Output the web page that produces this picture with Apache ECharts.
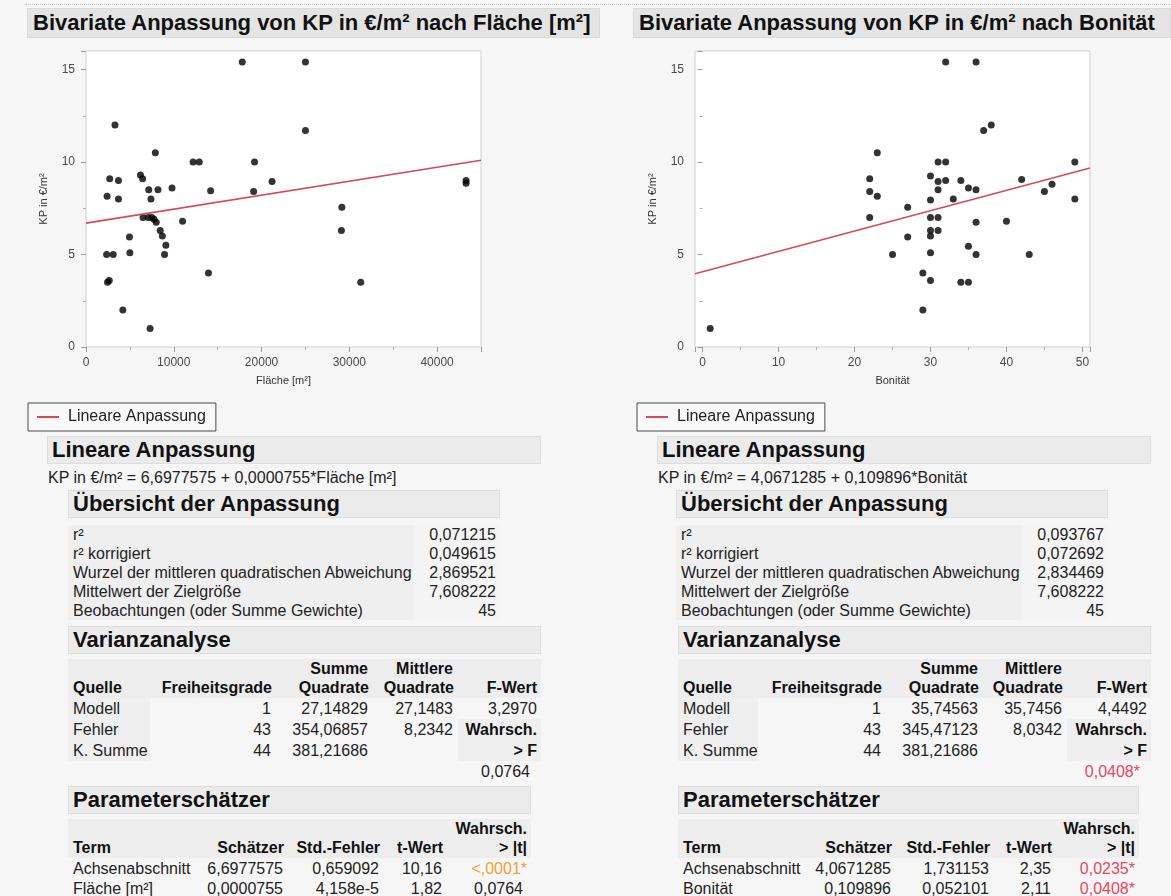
<!DOCTYPE html>
<html>
<head>
<meta charset="utf-8">
<title>Bivariate Anpassung von KP in €/m²</title>
<script src="https://cdn.jsdelivr.net/npm/echarts@6/dist/echarts.min.js"></script>
<style>
  html, body { margin: 0; padding: 0; background: #f6f6f6; }
  body { width: 1171px; height: 896px; position: relative; overflow: hidden;
         font-family: "Liberation Sans", Arial, Helvetica, sans-serif; color: #222; }
  #chart { position: absolute; left: 0; top: 0; width: 1171px; height: 896px; z-index: 2; }
  .layer { position: absolute; left: 0; top: 0; width: 1171px; height: 896px; z-index: 1; }
  .rule { position: absolute; left: 25px; top: 4px; width: 1146px; border-top: 1px dotted #c4c4c4; }
  .title { position: absolute; top: 8px; height: 30px; background: #e4e4e4; box-sizing: border-box;
           font-weight: bold; font-size: 22px; line-height: 28px; padding-left: 5px; color: #111;
           border: 1px solid #dadada; white-space: nowrap; overflow: hidden; }
  .bar { position: absolute; height: 28px; background: #ebebeb; border: 1px solid #dddddd;
         box-sizing: border-box; font-weight: bold; font-size: 22px; line-height: 26px;
         padding-left: 4px; color: #111; white-space: nowrap; }
  .eq { position: absolute; font-size: 16px; line-height: 18px; color: #222; white-space: nowrap; }
  table.rep { position: absolute; border-collapse: collapse; table-layout: fixed; font-size: 16px; }
  table.rep td { padding: 0 5px; white-space: nowrap; line-height: 18px; color: #222; box-sizing: border-box; }
  table.rep td.b { font-weight: bold; color: #111; }
  table.rep td.r { text-align: right; }
  table.rep td.l { text-align: left; }
</style>
</head>
<body>
<div class="layer" id="report"><div class="rule"></div></div>
<div id="chart"></div>
<script>
// ---------- data: KP in €/m² against Fläche [m²] ----------
const flaeche = [17800, 25000, 3300, 25000, 7900, 12200, 12900, 19200, 2700, 3700,
                 6200, 6450, 21200, 43300, 43300, 2400, 3700, 7150, 8200, 9800,
                 7400, 14200, 19100, 6500, 7100, 7500, 7750, 8000, 8450, 8700,
                 9100, 8950, 4950, 5000, 2350, 3100, 2650, 2450, 4200, 7300,
                 11000, 13950, 29150, 29100, 31300];
const kpFlaeche = [15.4, 15.4, 12.0, 11.7, 10.5, 10.0, 10.0, 10.0, 9.1, 9.0,
                   9.3, 9.1, 8.95, 9.0, 8.85, 8.15, 8.0, 8.5, 8.5, 8.6,
                   8.0, 8.45, 8.4, 7.0, 7.0, 7.0, 6.9, 6.75, 6.3, 6.0,
                   5.5, 5.0, 5.95, 5.1, 5.0, 5.0, 3.6, 3.5, 2.0, 1.0,
                   6.8, 4.0, 7.55, 6.3, 3.5];

// ---------- data: KP in €/m² against Bonität ----------
const bonitaet = [1, 32, 36, 38, 37, 23, 31, 32, 49, 22,
                  30, 31, 32, 34, 42, 22, 23, 31, 35, 36,
                  46, 45, 30, 33, 49, 27, 22, 30, 31, 36,
                  40, 30, 31, 30, 27, 35, 25, 30, 36, 43,
                  29, 30, 34, 35, 29];
const kpBonitaet = [1.0, 15.4, 15.4, 12.0, 11.7, 10.5, 10.0, 10.0, 10.0, 9.1,
                    9.25, 8.95, 9.0, 9.0, 9.05, 8.4, 8.15, 8.5, 8.6, 8.5,
                    8.8, 8.4, 7.95, 8.0, 8.0, 7.55, 7.0, 7.0, 7.0, 6.75,
                    6.8, 6.3, 6.3, 6.0, 5.95, 5.45, 5.0, 5.1, 5.0, 5.0,
                    4.0, 3.6, 3.5, 3.5, 2.0];

// ---------- report texts ----------
const titles = ['Bivariate Anpassung von KP in €/m² nach Fläche [m²]',
                'Bivariate Anpassung von KP in €/m² nach Bonität'];
const xNames = ['Fläche [m²]', 'Bonität'];
const yName = 'KP in €/m²';
const fitName = 'Lineare Anpassung';
const interceptTexts = ['6,6977575', '4,0671285'];
const slopeTexts = ['0,0000755', '0,109896'];

const summaryHeading = 'Übersicht der Anpassung';
const summaryLabels = ['r²', 'r² korrigiert', 'Wurzel der mittleren quadratischen Abweichung',
                       'Mittelwert der Zielgröße', 'Beobachtungen (oder Summe Gewichte)'];
const summaryFlaeche = ['0,071215', '0,049615', '2,869521', '7,608222', '45'];
const summaryBonitaet = ['0,093767', '0,072692', '2,834469', '7,608222', '45'];

const anovaHeading = 'Varianzanalyse';
const anovaHead1 = ['', '', 'Summe', 'Mittlere', ''];
const anovaHead2 = ['Quelle', 'Freiheitsgrade', 'Quadrate', 'Quadrate', 'F-Wert'];
const anovaSources = ['Modell', 'Fehler', 'K. Summe'];
const anovaDF = ['1', '43', '44'];
const anovaSSFlaeche = ['27,14829', '354,06857', '381,21686'];
const anovaMSFlaeche = ['27,1483', '8,2342', ''];
const anovaSSBonitaet = ['35,74563', '345,47123', '381,21686'];
const anovaMSBonitaet = ['35,7456', '8,0342', ''];
const fValues = ['3,2970', '4,4492'];
const probF = ['0,0764', '0,0408*'];

const paramHeading = 'Parameterschätzer';
const paramHead1 = ['', '', '', '', 'Wahrsch.'];
const paramHead2 = ['Term', 'Schätzer', 'Std.-Fehler', 't-Wert', '> |t|'];
const paramTermsFlaeche = ['Achsenabschnitt', 'Fläche [m²]'];
const paramSEFlaeche = ['0,659092', '4,158e-5'];
const paramTFlaeche = ['10,16', '1,82'];
const paramPFlaeche = ['<,0001*', '0,0764'];
const paramTermsBonitaet = ['Achsenabschnitt', 'Bonität'];
const paramSEBonitaet = ['1,731153', '0,052101'];
const paramTBonitaet = ['2,35', '2,11'];
const paramPBonitaet = ['0,0235*', '0,0408*'];

// ---------- helpers ----------
const num = s => parseFloat(s.replace(',', '.'));
const ORANGE = '#f0a238';
const RED = '#e8455e';
function pColor(s) {
  if (!s.endsWith('*')) return null;
  return s.startsWith('<') ? ORANGE : RED;
}

const report = document.getElementById('report');
function div(cls, x, y, w, text) {
  const d = document.createElement('div');
  d.className = cls;
  d.style.left = x + 'px';
  d.style.top = y + 'px';
  if (w) d.style.width = w + 'px';
  d.textContent = text;
  report.appendChild(d);
  return d;
}
// rows: [{h, cells:[{t, b, c, pr}]}]; first column left aligned, the rest right aligned
function table(x, y, widths, rows, shade) {
  const t = document.createElement('table');
  t.className = 'rep';
  t.style.left = x + 'px';
  t.style.top = y + 'px';
  t.style.width = widths.reduce((a, b) => a + b, 0) + 'px';
  rows.forEach((r, j) => {
    const tr = t.insertRow();
    tr.style.height = r.h + 'px';
    r.cells.forEach((c, i) => {
      const td = tr.insertCell();
      td.style.width = widths[i] + 'px';
      td.style.height = r.h + 'px';
      td.className = (i === 0 ? 'l' : 'r') + (c.b ? ' b' : '');
      if (c.c) td.style.color = c.c;
      if (c.pr != null) td.style.paddingRight = c.pr + 'px';
      const bg = shade ? shade(j, i) : null;
      if (bg) td.style.background = bg;
      td.textContent = c.t;
    });
  });
  report.appendChild(t);
}

// block positions for each side of the report
const sides = [
  { title: [27, 573], lin: [47, 494], eq: 48, sum: [68, [345, 87]],
    anova: [68, 473, [82, 126, 97, 85, 83]], param: [68, 463, [112, 108, 96, 63, 84]],
    ss: anovaSSFlaeche, ms: anovaMSFlaeche, terms: paramTermsFlaeche, se: paramSEFlaeche,
    tv: paramTFlaeche, pv: paramPFlaeche, sumVals: summaryFlaeche },
  { title: [633, 538], lin: [657, 494], eq: 658, sum: [676, [345, 87]],
    anova: [678, 473, [80, 128, 97, 84, 84]], param: [678, 461, [107, 111, 98, 62, 83]],
    ss: anovaSSBonitaet, ms: anovaMSBonitaet, terms: paramTermsBonitaet, se: paramSEBonitaet,
    tv: paramTBonitaet, pv: paramPBonitaet, sumVals: summaryBonitaet }
];

sides.forEach((s, k) => {
  div('title', s.title[0], 8, s.title[1], titles[k]);
  div('bar', s.lin[0], 436, s.lin[1], fitName);
  div('eq', s.eq, 469, 0, yName + ' = ' + interceptTexts[k] + ' + ' + slopeTexts[k] + '*' + xNames[k]);

  // Übersicht der Anpassung
  div('bar', s.sum[0], 490, s.sum[1][0] + s.sum[1][1], summaryHeading);
  table(s.sum[0], 525, s.sum[1],
        summaryLabels.map((l, i) => ({ h: 19, cells: [{ t: l }, { t: s.sumVals[i], pr: 4 }] })),
        (j, i) => i === 0 ? '#efefef' : '#f4f4f4');

  // Varianzanalyse
  div('bar', s.anova[0], 626, s.anova[1], anovaHeading);
  const pF = probF[k];
  const aRows = [
    { h: 19, cells: anovaHead1.map(t => ({ t, b: true })) },
    { h: 20, cells: anovaHead2.map(t => ({ t, b: true, pr: 4 })) },
    { h: 21, cells: [{ t: anovaSources[0] }, { t: anovaDF[0] }, { t: s.ss[0] }, { t: s.ms[0] }, { t: fValues[k], pr: 4 }] },
    { h: 21, cells: [{ t: anovaSources[1] }, { t: anovaDF[1] }, { t: s.ss[1] }, { t: s.ms[1] }, { t: 'Wahrsch.', b: true, pr: 4 }] },
    { h: 21, cells: [{ t: anovaSources[2] }, { t: anovaDF[2] }, { t: s.ss[2] }, { t: s.ms[2] }, { t: '> F', b: true, pr: 4 }] },
    { h: 21, cells: [{ t: '' }, { t: '' }, { t: '' }, { t: '' }, { t: pF, c: pColor(pF), pr: 11 }] }
  ];
  table(s.anova[0], 659, s.anova[2], aRows, (j, i) => {
    if (j < 2) return '#ededed';
    if (j < 5 && i === 0) return '#efefef';
    if (j >= 3 && j < 5 && i === 4) return '#efefef';
    return null;
  });

  // Parameterschätzer
  div('bar', s.param[0], 786, s.param[1], paramHeading);
  const est = [interceptTexts[k], slopeTexts[k]];
  const pRows = [
    { h: 19, cells: paramHead1.map(t => ({ t, b: true, pr: 4 })) },
    { h: 20, cells: paramHead2.map(t => ({ t, b: true, pr: 4 })) }
  ].concat(s.terms.map((term, i) => ({
    h: i === 0 ? 21 : 19,
    cells: [{ t: term }, { t: est[i] }, { t: s.se[i] }, { t: s.tv[i] },
            { t: s.pv[i], c: pColor(s.pv[i]), pr: s.pv[i].endsWith('*') ? 4 : 8 }]
  })));
  table(s.param[0], 819, s.param[2], pRows, (j, i) => j < 2 ? '#ededed' : null);
});

// ---------- chart: two scatter plots with linear fit ----------
const chart = echarts.init(document.getElementById('chart'), null, { renderer: 'canvas' });

const xRanges = [[0, 45000], [-1, 51]];
const pairs = [flaeche.map((x, i) => [x, kpFlaeche[i]]), bonitaet.map((x, i) => [x, kpBonitaet[i]])];
const fitLines = xRanges.map((r, k) => {
  const a = num(interceptTexts[k]), b = num(slopeTexts[k]);
  return r.map(x => [x, a + b * x]);
});

const gridBase = { top: 51, height: 296, show: true, backgroundColor: '#ffffff',
                   borderColor: '#cfcfcf', borderWidth: 1 };
const labelBase = { fontSize: 12, color: '#4a4a4a', fontFamily: 'Liberation Sans, Arial',
                    showMaxLabel: false, formatter: v => String(v) };
const tickStyle = {
  axisLine: { show: false },
  axisTick: { show: true, inside: false, length: 5, lineStyle: { color: '#9a9a9a' } },
  minorTick: { show: true, splitNumber: 2, length: 3, lineStyle: { color: '#b0b0b0' } },
  splitLine: { show: false }
};
const axisNameStyle = { fontSize: 11, color: '#333', fontFamily: 'Liberation Sans, Arial' };

const option = {
  backgroundColor: 'transparent',
  animation: false,
  grid: [
    Object.assign({ left: 86, width: 395 }, gridBase),
    Object.assign({ left: 695, width: 395 }, gridBase)
  ],
  xAxis: [
    Object.assign({}, tickStyle, {
      gridIndex: 0, type: 'value', min: xRanges[0][0], max: xRanges[0][1], interval: 10000,
      name: xNames[0], nameLocation: 'middle', nameGap: 28, nameTextStyle: axisNameStyle,
      axisLabel: Object.assign({}, labelBase, { margin: 10 })
    }),
    Object.assign({}, tickStyle, {
      gridIndex: 1, type: 'value', min: xRanges[1][0], max: xRanges[1][1], splitNumber: 5,
      name: xNames[1], nameLocation: 'middle', nameGap: 28, nameTextStyle: axisNameStyle,
      axisLabel: Object.assign({}, labelBase, { margin: 10, showMinLabel: false })
    })
  ],
  yAxis: [0, 1].map(g => Object.assign({}, tickStyle, {
    gridIndex: g, type: 'value', min: 0, max: 16, interval: 5,
    name: yName, nameLocation: 'middle', nameGap: 37, nameRotate: 90, nameTextStyle: axisNameStyle,
    axisLabel: Object.assign({}, labelBase, { margin: 11 })
  })),
  legend: [28, 637].map(x => ({
    data: [{ name: fitName, icon: 'rect' }],
    left: x, top: 403, orient: 'horizontal',
    itemWidth: 22, itemHeight: 2,
    padding: [6, 10, 6, 9],
    borderColor: '#4a4a4a', borderWidth: 1, borderRadius: 0,
    backgroundColor: '#f9f9f9',
    textStyle: { fontSize: 16, color: '#222', fontFamily: 'Liberation Sans, Arial', padding: [0, 0, 0, 4] },
    selectedMode: false
  })),
  series: [0, 1].flatMap(g => [
    {
      type: 'scatter', name: yName, xAxisIndex: g, yAxisIndex: g,
      data: pairs[g], symbol: 'circle', symbolSize: 7,
      itemStyle: { color: '#000000' }, silent: true
    },
    {
      type: 'line', name: fitName, xAxisIndex: g, yAxisIndex: g,
      data: fitLines[g], symbol: 'none', clip: true, silent: true,
      lineStyle: { color: '#d8485a', width: 1.6 }, itemStyle: { color: '#d8485a' }
    }
  ])
};
chart.setOption(option);
</script>
</body>
</html>
